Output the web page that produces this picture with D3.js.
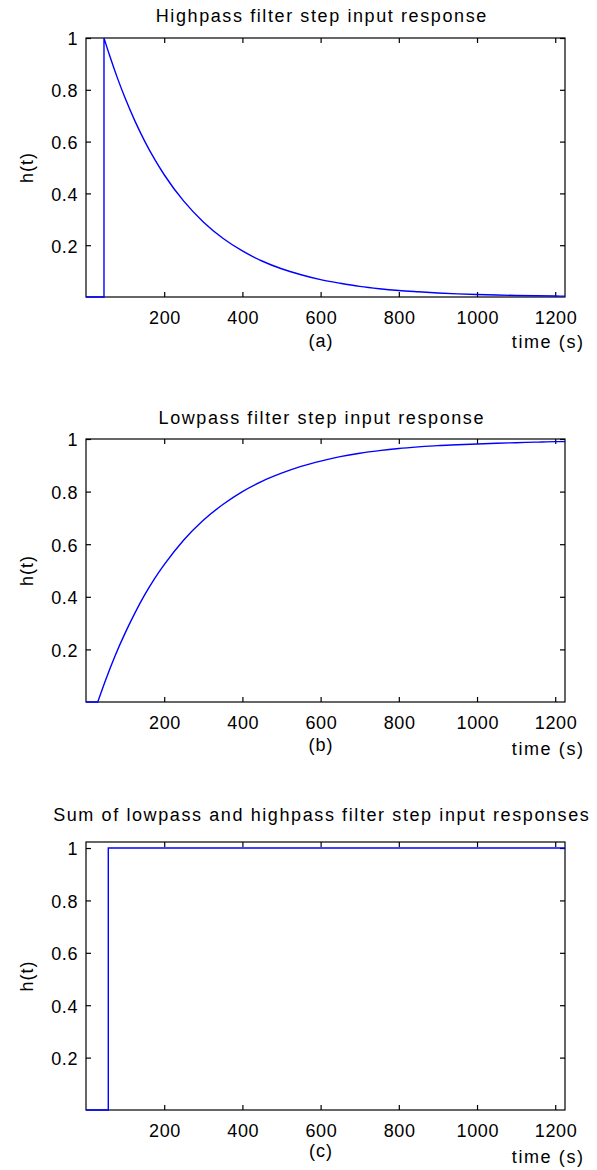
<!DOCTYPE html>
<html>
<head>
<meta charset="utf-8">
<script src="https://cdn.jsdelivr.net/npm/d3@7"></script>
<style>
  html, body { margin: 0; padding: 0; background: #fff; }
  svg text { font-family: "Liberation Sans", Arial, sans-serif; fill: #000; }
</style>
</head>
<body>
<svg id="fig" width="597" height="1170"></svg>
<script>
// Step responses (time in seconds, response h(t))
const highpassTime  = [0, 46, 46, 60, 80, 100, 125, 150, 175, 200, 250, 300, 350, 400, 450, 500, 550, 600, 650, 700, 750, 800, 850, 900, 950, 1000, 1050, 1100, 1150, 1200, 1225];
const highpassValue = [0, 0, 1.0, 0.934, 0.847, 0.768, 0.680, 0.602, 0.533, 0.472, 0.370, 0.290, 0.227, 0.178, 0.139, 0.109, 0.086, 0.067, 0.053, 0.041, 0.032, 0.025, 0.020, 0.0155, 0.012, 0.0095, 0.0075, 0.0059, 0.0046, 0.0036, 0.0032];

const lowpassTime  = [0, 30, 50, 75, 100, 125, 150, 175, 200, 250, 300, 350, 400, 450, 500, 550, 600, 650, 700, 750, 800, 850, 900, 950, 1000, 1050, 1100, 1150, 1200, 1225];
const lowpassValue = [0, 0, 0.083, 0.178, 0.262, 0.338, 0.407, 0.468, 0.522, 0.616, 0.691, 0.751, 0.800, 0.839, 0.870, 0.896, 0.916, 0.933, 0.946, 0.956, 0.964, 0.970, 0.975, 0.978, 0.981, 0.984, 0.986, 0.988, 0.990, 0.990];

const sumTime  = [0, 57, 57, 1225];
const sumValue = [0, 0, 1, 1];

const xTicks = [200, 400, 600, 800, 1000, 1200];
const yTicks = [0.2, 0.4, 0.6, 0.8, 1];
const yTickLabels = ["0.2", "0.4", "0.6", "0.8", "1"];

const panels = [
  { title: "Highpass filter step input response", tag: "(a)", time: highpassTime, value: highpassValue,
    top: 38, bottom: 297, yMax: 1, titleY: 22, tagY: 347, xlabelY: 348 },
  { title: "Lowpass filter step input response", tag: "(b)", time: lowpassTime, value: lowpassValue,
    top: 439, bottom: 702, yMax: 1, titleY: 424, tagY: 751, xlabelY: 755 },
  { title: "Sum of lowpass and highpass filter step input responses", tag: "(c)", time: sumTime, value: sumValue,
    top: 842, bottom: 1110, yMax: 1.023, titleY: 821, tagY: 1157, xlabelY: 1163 }
];

const svg = d3.select("#fig");
const left = 86, right = 565;
const fontSize = 18;
const tickLen = 5;
const textSpacing = 1.6;

panels.forEach(p => {
  const x = d3.scaleLinear().domain([0, 1225]).range([left, right]);
  const y = d3.scaleLinear().domain([0, p.yMax]).range([p.bottom, p.top]);
  const g = svg.append("g");

  // box
  g.append("rect")
    .attr("x", left).attr("y", p.top)
    .attr("width", right - left).attr("height", p.bottom - p.top)
    .attr("fill", "none").attr("stroke", "#000").attr("stroke-width", 1.2);

  // x ticks (bottom and top, inward)
  const xAxisB = d3.axisBottom(x).tickValues(xTicks).tickSize(-tickLen).tickPadding(14).tickFormat(d3.format("d"));
  const gxb = g.append("g").attr("transform", `translate(0,${p.bottom})`).call(xAxisB);
  const xAxisT = d3.axisTop(x).tickValues(xTicks).tickSize(-tickLen).tickFormat("");
  const gxt = g.append("g").attr("transform", `translate(0,${p.top})`).call(xAxisT);

  // y ticks (left and right, inward)
  const yAxisL = d3.axisLeft(y).tickValues(yTicks).tickSize(-tickLen).tickPadding(14)
    .tickFormat((d, i) => yTickLabels[i]);
  const gyl = g.append("g").attr("transform", `translate(${left},0)`).call(yAxisL);
  const yAxisR = d3.axisRight(y).tickValues(yTicks).tickSize(-tickLen).tickFormat("");
  const gyr = g.append("g").attr("transform", `translate(${right},0)`).call(yAxisR);

  [gxb, gxt, gyl, gyr].forEach(a => {
    a.select(".domain").remove();
    a.selectAll(".tick line").attr("stroke", "#000").attr("stroke-width", 1.2);
    a.selectAll(".tick text").attr("font-size", fontSize).attr("fill", "#000")
      .attr("font-family", "Liberation Sans, Arial, sans-serif").attr("letter-spacing", "0.6px");
  });
  gxb.selectAll(".tick text").attr("dy", "0.71em").attr("y", 14).attr("dx", "0.3px");
  gyl.selectAll(".tick text").attr("dy", "0.38em").attr("x", -8);

  // response curve: flat lead-in and step drawn straight, the rest smoothed
  const pts = p.time.map((t, i) => [t, p.value[i]]);
  let split = 0;
  pts.forEach((d, i) => {
    if (d[1] === 0) split = Math.max(split, i);
    if (i > 0 && d[0] === pts[i - 1][0]) split = Math.max(split, i);
  });
  const straight = d3.line().x(d => x(d[0])).y(d => y(d[1]));
  const smooth = d3.line().x(d => x(d[0])).y(d => y(d[1])).curve(d3.curveMonotoneX);
  const d = straight(pts.slice(0, split + 1)) + smooth(pts.slice(split)).replace(/^M/, "L");
  g.append("path")
    .attr("d", d)
    .attr("fill", "none").attr("stroke", "#0000ff").attr("stroke-width", 1.4)
    .attr("stroke-linejoin", "miter");

  // titles and labels
  g.append("text").attr("x", 321 + textSpacing / 2).attr("y", p.titleY)
    .attr("text-anchor", "middle").attr("font-size", fontSize).attr("letter-spacing", textSpacing + "px").text(p.title);
  g.append("text").attr("x", 321).attr("y", p.tagY)
    .attr("text-anchor", "middle").attr("font-size", fontSize).attr("letter-spacing", "1px").text(p.tag);
  g.append("text").attr("x", 583 + textSpacing).attr("y", p.xlabelY)
    .attr("text-anchor", "end").attr("font-size", fontSize).attr("letter-spacing", textSpacing + "px").text("time (s)");
  g.append("text")
    .attr("transform", `translate(33,${(p.top + p.bottom) / 2}) rotate(-90)`)
    .attr("text-anchor", "middle").attr("font-size", fontSize).attr("letter-spacing", "1px").text("h(t)");
});
</script>
</body>
</html>
